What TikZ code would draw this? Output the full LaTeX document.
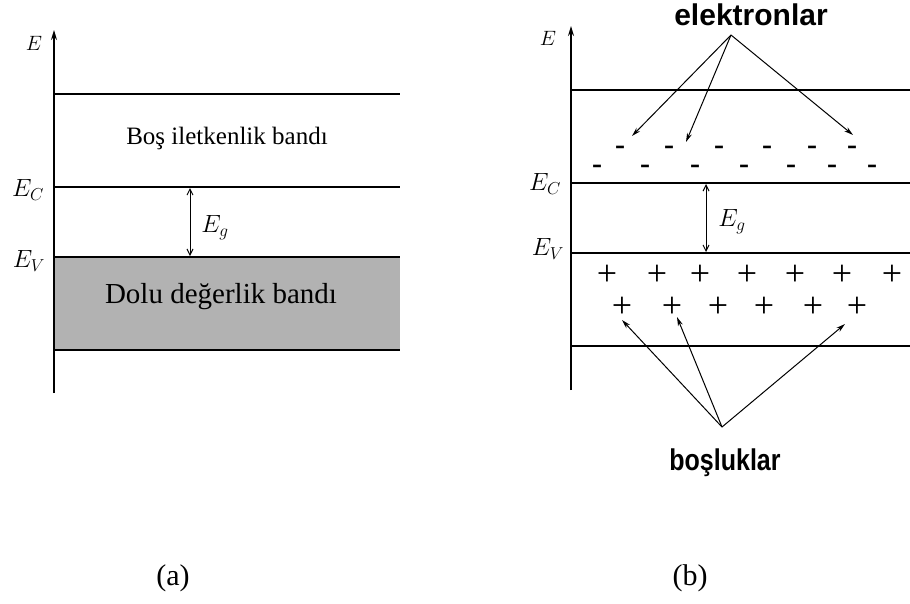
\documentclass[tikz,border=0pt]{standalone}
\usepackage{fontspec}
\setmainfont{Liberation Serif}
\newfontfamily\arialfont{Liberation Sans}
\usetikzlibrary{arrows.meta}
\begin{document}
\begin{tikzpicture}[x=1pt,y=-1pt,
  band/.style={line width=1.1pt},
  axis/.style={line width=1.4pt,-{Stealth[length=10pt,width=6pt]}},
  gap/.style={line width=1pt,{Straight Barb[length=6pt,width=6pt]}-{Straight Barb[length=6pt,width=6pt]}},
  pointer/.style={line width=1pt,-{Stealth[length=9pt,width=5pt]}},
  lbl/.style={inner sep=0pt,font=\fontsize{25}{27}\selectfont},
  small/.style={inner sep=0pt,font=\fontsize{20}{22}\selectfont},
  bold/.style={inner sep=0pt,font=\arialfont\bfseries\fontsize{25}{28}\selectfont},
  car/.style={inner sep=0pt,font=\bfseries\fontsize{30}{30}\selectfont},
  hole/.style={inner sep=0pt,font=\fontsize{36}{36}\selectfont},
  captext/.style={inner sep=0pt,font=\fontsize{30}{32}\selectfont}]
\useasboundingbox[fill=white] (0,0) rectangle (910,603);

% ---------- panel (a) ----------
\fill[gray!60] (55,257) rectangle (400,350);
\coordinate (a0) at (54,393);
\coordinate (a1) at (54,30);
\draw[axis] (a0) -- (a1);
\node[small] (aE) at (34,43) {$E$};
\coordinate (at1) at (54,94); \coordinate (at2) at (400,94);
\coordinate (ac1) at (54,187); \coordinate (ac2) at (400,187);
\coordinate (av1) at (54,257); \coordinate (av2) at (400,257);
\coordinate (ab1) at (54,350); \coordinate (ab2) at (400,350);
\draw[band] (at1) -- (at2);
\draw[band] (ac1) -- (ac2);
\draw[band] (av1) -- (av2);
\draw[band] (ab1) -- (ab2);
\coordinate (ag1) at (190,188); \coordinate (ag2) at (190,256);
\draw[gap] (ag1) -- (ag2);
\node[lbl] (aEg) at (215,228) {$E_g$};
\node[lbl] (aEC) at (28,190) {$E_C$};
\node[lbl] (aEV) at (29,261) {$E_V$};
\node[inner sep=0pt,font=\fontsize{25}{28}\selectfont] (abos) at (227,138) {Boş iletkenlik bandı};
\node[inner sep=0pt,font=\fontsize{29}{32}\selectfont] (adolu) at (221,297) {Dolu değerlik bandı};
\node[captext] (acap) at (173,578) {(a)};

% ---------- panel (b) ----------
\coordinate (b0) at (571,390);
\coordinate (b1) at (571,26);
\draw[axis] (b0) -- (b1);
\node[small] (bE) at (548,38) {$E$};
\coordinate (bt1) at (571,90); \coordinate (bt2) at (910,90);
\coordinate (bc1) at (571,183); \coordinate (bc2) at (910,183);
\coordinate (bv1) at (571,253); \coordinate (bv2) at (910,253);
\coordinate (bb1) at (571,346); \coordinate (bb2) at (910,346);
\draw[band] (bt1) -- (bt2);
\draw[band] (bc1) -- (bc2);
\draw[band] (bv1) -- (bv2);
\draw[band] (bb1) -- (bb2);
\coordinate (bg1) at (706,184); \coordinate (bg2) at (706,252);
\draw[gap] (bg1) -- (bg2);
\node[lbl] (bEg) at (732,222) {$E_g$};
\node[lbl] (bEC) at (545,184) {$E_C$};
\node[lbl] (bEV) at (548,249) {$E_V$};

% electrons
\foreach \x [count=\i] in {620,669,719,767,812,852}
  \node[car] (m1\i) at (\x,150) {-};
\foreach \x [count=\i] in {597,645,695,744,791,832,872}
  \node[car] (m2\i) at (\x,169) {-};
% holes
\foreach \x [count=\i] in {607,657,700,747,795,842,892}
  \node[hole] (p1\i) at (\x,275) {+};
\foreach \x [count=\i] in {622,672,718,764,813,857}
  \node[hole] (p2\i) at (\x,307) {+};

\node[bold] (el) at (751,15) {\scalebox{1.2}[1.2]{elektronlar}};
\coordinate (eo) at (731,35);
\coordinate (e1) at (632,136);
\coordinate (e2) at (686,142);
\coordinate (e3) at (853,135);
\draw[pointer] (eo) -- (e1);
\draw[pointer] (eo) -- (e2);
\draw[pointer] (eo) -- (e3);

\node[bold] (bo) at (725,463) {\scalebox{1}[1.2]{boşluklar}};
\coordinate (ho) at (722,427);
\coordinate (h1) at (622,320);
\coordinate (h2) at (677,317);
\coordinate (h3) at (845,324);
\draw[pointer] (ho) -- (h1);
\draw[pointer] (ho) -- (h2);
\draw[pointer] (ho) -- (h3);

\node[captext] (bcap) at (690,578) {(b)};
\end{tikzpicture}
\end{document}
